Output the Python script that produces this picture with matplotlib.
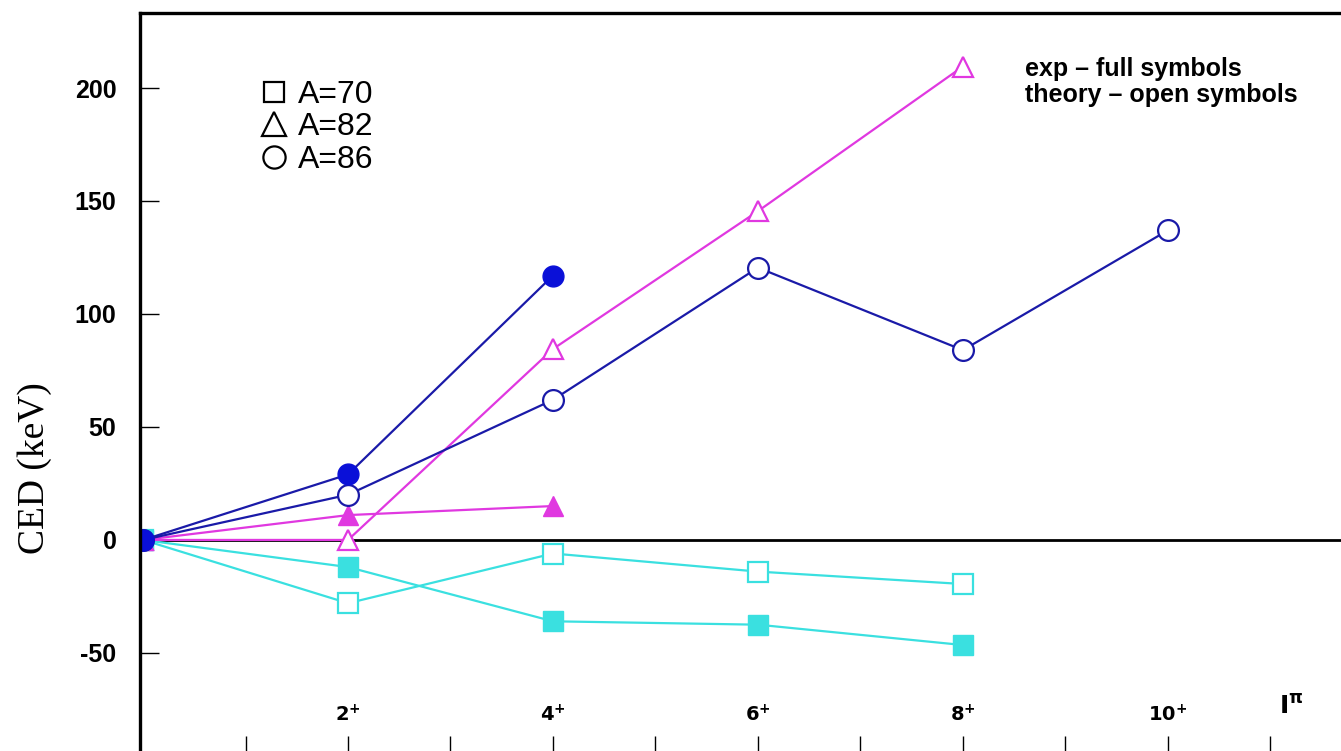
import matplotlib
matplotlib.use('Agg')
import matplotlib.pyplot as plt
from matplotlib.lines import Line2D

# spin values of the states
spin_labels = ['2', '4', '6', '8', '10']
spin_label_pos = [2, 4, 6, 8, 10]

# A=70 (squares)
a70_exp_x = [0, 2, 4, 6, 8]
a70_exp_y = [0, -12, -36, -37.5, -46.5]
a70_th_x = [0, 2, 4, 6, 8]
a70_th_y = [0, -28, -6, -14, -19.5]

# A=82 (triangles)
a82_exp_x = [0, 2, 4]
a82_exp_y = [0, 11, 15]
a82_th_x = [0, 2, 4, 6, 8]
a82_th_y = [0, 0, 84.5, 145.5, 209.5]

# A=86 (circles)
a86_exp_x = [0, 2, 4]
a86_exp_y = [0, 29, 117]
a86_th_x = [0, 2, 4, 6, 8, 10]
a86_th_y = [0, 20, 62, 120.5, 84, 137]

cyan = '#3ae0e0'
magenta = '#e038e0'
blue = '#1a1aa8'
blue_fill = '#0a10d8'

plt.rcParams['font.family'] = ['Liberation Sans', 'DejaVu Sans']

fig = plt.figure(figsize=(13.41, 7.51), dpi=100)
ax = fig.add_axes([0.1044, 0.0, 0.8956, 0.9827])

ms = 14
lw = 1.6
# A=70
ax.plot(a70_th_x, a70_th_y, '-s', color=cyan, lw=lw, ms=ms, mfc='white', mec=cyan, mew=1.6)
ax.plot(a70_exp_x, a70_exp_y, '-s', color=cyan, lw=lw, ms=ms, mfc=cyan, mec=cyan)
# A=82
ax.plot(a82_th_x, a82_th_y, '-^', color=magenta, lw=lw, ms=ms + 1, mfc='white', mec=magenta, mew=1.6)
ax.plot(a82_exp_x, a82_exp_y, '-^', color=magenta, lw=lw, ms=ms + 1, mfc=magenta, mec=magenta)
# A=86
ax.plot(a86_th_x, a86_th_y, '-o', color=blue, lw=lw, ms=ms + 1, mfc='white', mec=blue, mew=1.6)
ax.plot(a86_exp_x, a86_exp_y, '-o', color=blue, lw=lw, ms=ms + 1, mfc=blue_fill, mec=blue_fill)

ax.axhline(0, color='black', lw=2, zorder=1)

ax.set_xlim(-0.03, 11.69)
ax.set_ylim(-93.4, 233.2)

for s in ['right', 'bottom']:
    ax.spines[s].set_visible(False)
ax.spines['left'].set_linewidth(2.4)
ax.spines['top'].set_linewidth(2.4)

ax.set_yticks([-50, 0, 50, 100, 150, 200])
ax.set_yticklabels(['-50', '0', '50', '100', '150', '200'], fontweight='bold', fontsize=18)
ax.tick_params(axis='y', direction='in', length=14, width=1, pad=17)
ax.set_xticks(range(1, 12))
ax.set_xticklabels([])
ax.tick_params(axis='x', direction='in', length=11, width=1, bottom=True, top=False)

# spin labels inside the frame
for p, lab in zip(spin_label_pos, spin_labels):
    ax.text(p, -77.5, r'$\mathbf{' + lab + r'}^{\mathbf{+}}$', ha='center', va='center', fontsize=14)
ax.text(11.2, -74, r'$\mathbf{I}^{\mathbf{\pi}}$', ha='center', va='center', fontsize=18)

fig.text(0.026, 0.377, 'CED (keV)', rotation=90, ha='center', va='center',
         fontsize=27, family='Liberation Serif')

handles = [Line2D([], [], marker='s', ls='none', mfc='none', mec='black', ms=15, mew=1.6),
           Line2D([], [], marker='^', ls='none', mfc='none', mec='black', ms=17, mew=1.6),
           Line2D([], [], marker='o', ls='none', mfc='none', mec='black', ms=16, mew=1.6)]
ax.legend(handles, ['A=70', 'A=82', 'A=86'], loc='upper left', bbox_to_anchor=(0.088, 0.931),
          frameon=False, fontsize=23, handlelength=0.8, handletextpad=0.35, labelspacing=0.08,
          borderpad=0)

ax.text(0.737, 0.94, 'exp \u2013 full symbols\ntheory \u2013 open symbols', transform=ax.transAxes,
        ha='left', va='top', fontsize=18, fontweight='bold', linespacing=1.1)

fig.savefig('out.png', dpi=100)
